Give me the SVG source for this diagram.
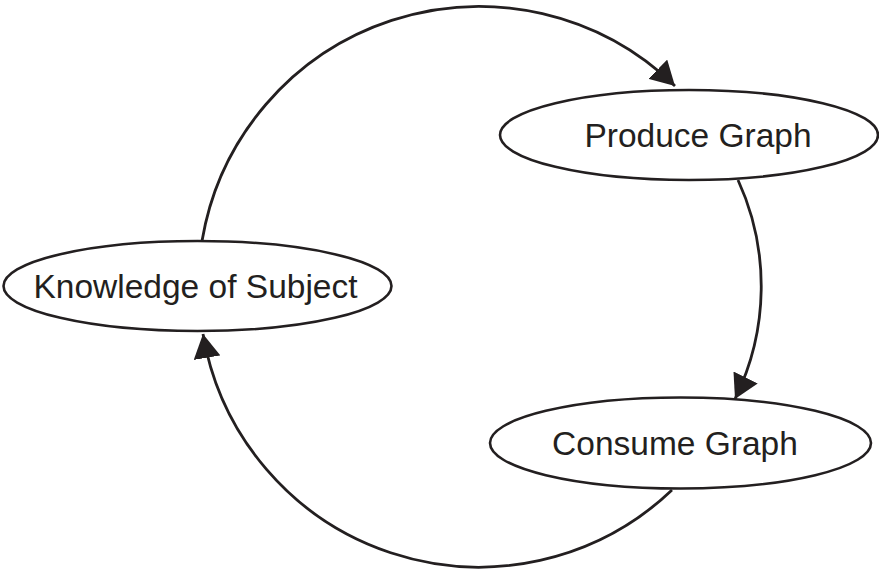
<svg xmlns="http://www.w3.org/2000/svg" width="879" height="571" viewBox="0 0 879 571">
<style>
.node ellipse{fill:#fff;stroke:#231f20;stroke-width:2.6}
.node text{font-family:"Liberation Sans",Arial,sans-serif;font-size:33.5px;fill:#231f20;text-anchor:middle}
.edge{fill:none;stroke:#231f20;stroke-width:2.8}
</style>
<defs>
<marker id="arr" markerUnits="userSpaceOnUse" markerWidth="25" markerHeight="27" refX="24" refY="13.5" orient="auto">
<path d="M0,0 L24,13.5 L0,27 z" fill="#231f20"/>
</marker>
</defs>
<rect width="879" height="571" fill="#fff"/>
<g id="connectors">
<path class="edge" d="M202,241 A281 281 0 0 1 675,86" marker-end="url(#arr)"/>
<path class="edge" d="M738,180 A255 255 0 0 1 735,399" marker-end="url(#arr)"/>
<path class="edge" d="M672,490 A280 280 0 0 1 203,334" marker-end="url(#arr)"/>
</g>
<g id="knowledge" class="node">
<ellipse cx="197.5" cy="286" rx="194" ry="45"/>
<text x="195.5" y="298">Knowledge of Subject</text>
</g>
<g id="produce" class="node">
<ellipse cx="689" cy="135" rx="189" ry="45"/>
<text x="698" y="147">Produce Graph</text>
</g>
<g id="consume" class="node">
<ellipse cx="680.5" cy="443" rx="190.5" ry="45.5"/>
<text x="675" y="455">Consume Graph</text>
</g>
</svg>
